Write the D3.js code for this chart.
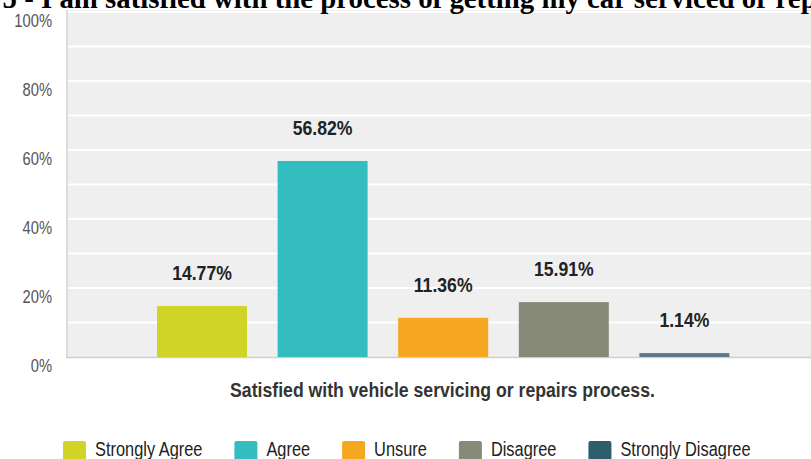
<!DOCTYPE html>
<html><head><meta charset="utf-8">
<script src="https://cdn.jsdelivr.net/npm/d3@7"></script>
<style>
body{margin:0;background:#fff;overflow:hidden}
svg{display:block}
</style></head>
<body>
<svg id="c" width="811" height="459"></svg>
<script>
const title = "5 - I am satisfied with the process of getting my car serviced or repaired?";
const categories = ["Strongly Agree","Agree","Unsure","Disagree","Strongly Disagree"];
const values = [14.77, 56.82, 11.36, 15.91, 1.14];
const colors = ["#d0d426","#33bdbe","#f5a81f","#878a78","#2e5d6b"];
const yTicks = [0,20,40,60,80,100];
const axisTitle = "Satisfied with vehicle servicing or repairs process.";

const SANS = "'Liberation Sans',Arial,sans-serif";
const NX = 0.82; // horizontal condensing to mimic a narrow face
const svg = d3.select("#c");
const plot = {left:66, right:811, top:12, bottom:357};

const y = d3.scaleLinear().domain([0,100]).range([plot.bottom, plot.top]);
const x = d3.scaleBand().domain(categories).range([141.7, 744.7]).paddingInner(0.2537).paddingOuter(0.127);

function ntext(parent, tx, ty, str, size, weight, fill, anchor, sx){
  return parent.append("text")
    .attr("transform",`translate(${tx},${ty}) scale(${sx||NX},1)`)
    .attr("font-family",SANS).attr("font-size",size).attr("font-weight",weight)
    .attr("fill",fill).attr("text-anchor",anchor||"start").text(str);
}

// background
svg.append("rect").attr("x",plot.left).attr("y",plot.top-2).attr("width",plot.right-plot.left).attr("height",plot.bottom-plot.top+2).attr("fill","#efefef");
svg.append("g").selectAll("line").data(d3.range(10,101,10)).join("line")
  .attr("x1",plot.left+2).attr("x2",plot.right).attr("y1",d=>y(d)).attr("y2",d=>y(d))
  .attr("stroke","#ffffff").attr("stroke-width",2);
svg.append("line").attr("x1",plot.left+1).attr("x2",plot.left+1).attr("y1",plot.top-2).attr("y2",plot.bottom)
  .attr("stroke","#dcdcdc").attr("stroke-width",2);
svg.append("line").attr("x1",plot.left).attr("x2",plot.right).attr("y1",plot.bottom+0.5).attr("y2",plot.bottom+0.5)
  .attr("stroke","#d0d0d0").attr("stroke-width",1.5);

// y axis labels
const ya = svg.append("g").attr("transform",`translate(${plot.left},0)`)
  .call(d3.axisLeft(y).tickValues(yTicks).tickFormat(d=>d+"%").tickSize(0));
ya.select(".domain").remove();
ya.selectAll(".tick text").remove();
ya.selectAll(".tick").each(function(d){
  ntext(d3.select(this), -14, 14, d+"%", 18, "normal", "#555", "end");
});

// bars
svg.append("g").selectAll("rect").data(values).join("rect")
  .attr("x",(d,i)=>x(categories[i])).attr("width",x.bandwidth())
  .attr("y",d=>y(d)).attr("height",d=>Math.max(plot.bottom-y(d),2))
  .attr("fill",(d,i)=> i===4 ? "#5a7b87" : colors[i]);

// value labels
const vl = svg.append("g");
values.forEach((d,i)=>{
  ntext(vl, x(categories[i])+x.bandwidth()/2, y(d)-26, d.toFixed(2)+"%", 21, "bold", "#222", "middle", 0.84);
});

// axis title fitted to the reference width (x 230..655)
const at = ntext(svg, 442.5, 397, axisTitle, 20.5, "bold", "#333", "middle", 1);
const aw = at.node().getComputedTextLength();
at.attr("transform",`translate(442.5,397) scale(${425/aw},1)`);

// title, cut off at the top and right like the reference
const tt = svg.append("text").attr("y",8).attr("font-family","'Liberation Serif','Times New Roman',serif")
  .attr("font-size",100).attr("font-weight","bold").attr("fill","#000").text(title);
const n = tt.node();
const w0 = n.getSubStringLength(0,1);
const w2 = n.getSubStringLength(0,"5 - I am satisfied with the process of getting my car serviced or ".length);
const fs = 100*(767-8)/(w2-w0);
tt.attr("font-size",fs).attr("x",8 - w0*fs/100 + 9);

// legend
const lg = svg.append("g");
let lx = 63;
categories.forEach((c,i)=>{
  lg.append("rect").attr("x",lx).attr("y",441).attr("width",23).attr("height",20).attr("rx",2).attr("fill",colors[i]);
  const t = ntext(lg, lx+32, 456, c, 19.5, "normal", "#222", "start", 0.84);
  lx += 32 + t.node().getComputedTextLength()*0.84 + 32;
});
</script>
</body></html>
